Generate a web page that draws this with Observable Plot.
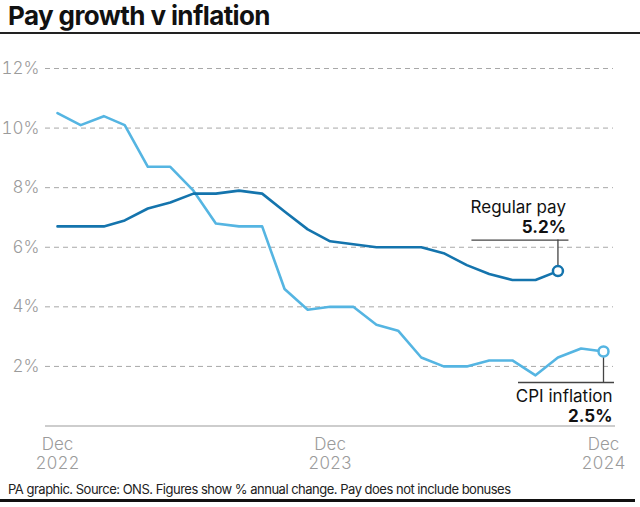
<!DOCTYPE html>
<html>
<head>
<meta charset="utf-8">
<script src="https://cdn.jsdelivr.net/npm/d3@7"></script>
<script src="https://cdn.jsdelivr.net/npm/@observablehq/plot@0.6"></script>
<style>
  html, body { margin: 0; padding: 0; background: #fff; }
  body { width: 640px; height: 507px; position: relative; overflow: hidden; font-family: Inter, "Liberation Sans", sans-serif; }
  #title { position: absolute; left: 8px; top: 3px; font-size: 26px; line-height: 26px; font-weight: 700; color: #111; letter-spacing: -0.6px; white-space: nowrap; }
  #topline { position: absolute; left: 0; top: 32px; width: 640px; height: 2px; background: #222; }
  #chart { position: absolute; left: 0; top: 36px; }
  #footer { position: absolute; left: 8px; top: 483px; font-size: 13px; line-height: 13px; color: #222; white-space: nowrap; letter-spacing: -0.5px; }
  #bottomline { position: absolute; left: 0; top: 499px; width: 635px; height: 3px; background: #111; }
</style>
</head>
<body>
<div id="title">Pay growth v inflation</div>
<div id="topline"></div>
<div id="chart"></div>
<div id="footer">PA graphic. Source: ONS. Figures show % annual change. Pay does not include bonuses</div>
<div id="bottomline"></div>
<script>
// ---- Data ----
const months = [
  "2022-12","2023-01","2023-02","2023-03","2023-04","2023-05","2023-06","2023-07","2023-08","2023-09","2023-10","2023-11",
  "2023-12","2024-01","2024-02","2024-03","2024-04","2024-05","2024-06","2024-07","2024-08","2024-09","2024-10","2024-11","2024-12"
];
const cpiInflation = [10.5, 10.1, 10.4, 10.1, 8.7, 8.7, 7.9, 6.8, 6.7, 6.7, 4.6, 3.9, 4.0, 4.0, 3.4, 3.2, 2.3, 2.0, 2.0, 2.2, 2.2, 1.7, 2.3, 2.6, 2.5];
const regularPay = [6.7, 6.7, 6.7, 6.9, 7.3, 7.5, 7.8, 7.8, 7.9, 7.8, 7.2, 6.6, 6.2, 6.1, 6.0, 6.0, 6.0, 5.8, 5.4, 5.1, 4.9, 4.9, 5.2];
const yTicks = [2, 4, 6, 8, 10, 12];
const xTickMonths = ["2022-12", "2023-12", "2024-12"];
const xTickLabels = ["Dec\n2022", "Dec\n2023", "Dec\n2024"];
const seriesNames = ["Regular pay", "CPI inflation"];

// ---- Build tables ----
const parse = s => new Date(Date.UTC(+s.slice(0,4), +s.slice(5,7) - 1, 1));
const cpiData = cpiInflation.map((v, i) => ({date: parse(months[i]), value: v}));
const payData = regularPay.map((v, i) => ({date: parse(months[i]), value: v}));
const cpiLast = [cpiData[cpiData.length - 1]];
const payLast = [payData[payData.length - 1]];
const xTicks = xTickMonths.map(parse);

const dark = "#1474ad";
const light = "#55b5e2";
const tickGrey = "#9b9b9b";

const chart = Plot.plot({
  width: 640,
  height: 440,
  marginLeft: 57,
  marginRight: 37,
  marginTop: 32,
  marginBottom: 50.5,
  style: {fontFamily: "Inter, 'Liberation Sans', sans-serif", background: "white", overflow: "visible"},
  x: {type: "utc", domain: [parse(months[0]), parse(months[months.length - 1])]},
  y: {domain: [0, 12]},
  marks: [
    Plot.ruleY(yTicks, {stroke: "#a8a8a8", strokeWidth: 1, strokeDasharray: "5,4", insetLeft: -12, insetRight: -10}),
    Plot.ruleY([0], {stroke: "#bdbdbd", strokeWidth: 1.5, insetLeft: -12, insetRight: -12}),
    Plot.axisY(yTicks, {tickSize: 0, tickPadding: 18, tickFormat: d => d + "%", fontSize: 17, fill: tickGrey, fontWeight: 300, label: null}),
    Plot.axisX(xTicks, {tickSize: 0, tickPadding: 9.5, tickFormat: (d, i) => xTickLabels[i], fontSize: 17, lineHeight: 1.16, fill: tickGrey, fontWeight: 300, label: null}),
    Plot.line(cpiData, {x: "date", y: "value", stroke: light, strokeWidth: 2.6}),
    Plot.line(payData, {x: "date", y: "value", stroke: dark, strokeWidth: 2.6}),
    // Regular pay annotation
    Plot.ruleX(payLast, {x: "date", y1: "value", y2: "value", insetTop: -31, insetBottom: 5, stroke: "#444", strokeWidth: 1.3}),
    Plot.ruleY(payLast, {y: "value", x1: "date", x2: "date", dy: -31, insetLeft: -86, insetRight: -11, stroke: "#444", strokeWidth: 1.3}),
    Plot.text(payLast, {x: "date", y: "value", text: () => seriesNames[0], textAnchor: "end", dx: 8, dy: -63.7, fontSize: 17, fill: "#111"}),
    Plot.text(payLast, {x: "date", y: "value", text: d => d.value.toFixed(1) + "%", textAnchor: "end", dx: 8, dy: -43.7, fontSize: 17, fontWeight: 700, fill: "#111"}),
    // CPI annotation
    Plot.ruleX(cpiLast, {x: "date", y1: "value", y2: "value", insetTop: 5, insetBottom: -31, stroke: "#444", strokeWidth: 1.3}),
    Plot.ruleY(cpiLast, {y: "value", x1: "date", x2: "date", dy: 31, insetLeft: -85, insetRight: -11, stroke: "#444", strokeWidth: 1.3}),
    Plot.text(cpiLast, {x: "date", y: "value", text: () => seriesNames[1], textAnchor: "end", dx: 9, dy: 45.3, fontSize: 17, fill: "#111"}),
    Plot.text(cpiLast, {x: "date", y: "value", text: d => d.value.toFixed(1) + "%", textAnchor: "end", dx: 9, dy: 65.3, fontSize: 17, fontWeight: 700, fill: "#111"}),
    Plot.dot(payLast, {x: "date", y: "value", r: 5, fill: "white", stroke: dark, strokeWidth: 2.5}),
    Plot.dot(cpiLast, {x: "date", y: "value", r: 5, fill: "white", stroke: light, strokeWidth: 2.5})
  ]
});
document.getElementById("chart").appendChild(chart);
</script>
</body>
</html>
